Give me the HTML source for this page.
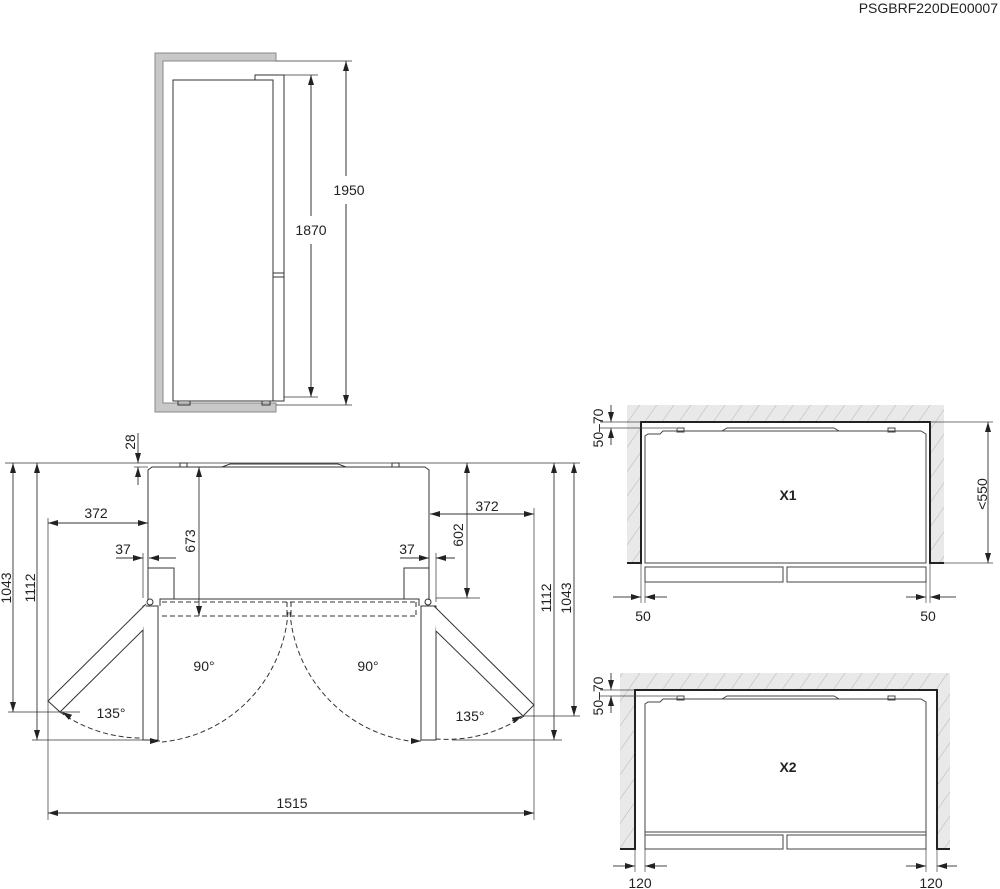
<!DOCTYPE html>
<html><head><meta charset="utf-8"><style>
html,body{margin:0;padding:0;background:#fff;}
svg{display:block;}
text{font-family:"Liberation Sans",sans-serif;font-size:14px;fill:#222;}
</style></head><body>
<svg width="1000" height="889" viewBox="0 0 1000 889" xmlns="http://www.w3.org/2000/svg">
<defs>
<marker id="a" viewBox="0 0 10 6" refX="10" refY="3" markerWidth="10" markerHeight="6" markerUnits="userSpaceOnUse" orient="auto-start-reverse"><path d="M0,0 L10,3 L0,6 z" fill="#222"/></marker>
<pattern id="h" patternUnits="userSpaceOnUse" width="14" height="14" patternTransform="rotate(35)">
<rect width="14" height="14" fill="#e9e9e9"/><line x1="0" y1="0" x2="0" y2="14" stroke="#b5b5b5" stroke-width="1"/></pattern>
</defs>
<text x="998" y="13" text-anchor="end">PSGBRF220DE00007</text>

<g fill="#c8c8c8" stroke="#888" stroke-width="1">
<path d="M155,53 H276 V61 H163 V403 H276 V412 H155 Z"/>
</g>
<g fill="none" stroke="#333" stroke-width="1">
<rect x="173" y="80" width="100" height="321"/>
<path d="M255,80 V75 H284 V401 H273"/>
<line x1="273" y1="273" x2="284" y2="273"/><line x1="273" y1="277" x2="284" y2="277"/>
<rect x="178" y="401" width="12" height="4"/><rect x="262" y="401" width="8" height="4"/>
<line x1="284" y1="75" x2="318" y2="75" stroke-width="0.7"/>
<line x1="284" y1="397" x2="318" y2="397" stroke-width="0.7"/>
<line x1="276" y1="61" x2="352" y2="61" stroke-width="0.7"/>
<line x1="276" y1="405" x2="352" y2="405" stroke-width="0.7"/>
<line x1="311" y1="75" x2="311" y2="216" marker-start="url(#a)"/>
<line x1="311" y1="244" x2="311" y2="397" marker-end="url(#a)"/>
<line x1="346" y1="61" x2="346" y2="176" marker-start="url(#a)"/>
<line x1="346" y1="204" x2="346" y2="405" marker-end="url(#a)"/>
</g>
<text x="311" y="235" text-anchor="middle">1870</text>
<text x="349" y="195" text-anchor="middle">1950</text>

<g fill="none" stroke="#333" stroke-width="1">
<line x1="5" y1="463" x2="580" y2="463" stroke-width="0.7"/>
<path d="M148,600 V470 L152,467 H425 L429,470 V600"/>
<rect x="180" y="463" width="7" height="4"/><rect x="392" y="463" width="7" height="4"/>
<path d="M222,467 L230,464 H338 L346,467"/>
<path d="M148,568 H174 V599"/><path d="M429,568 H404 V599"/>
<path d="M160,606 V599 H419 V606"/>
<g stroke-dasharray="5,3">
<line x1="162" y1="602" x2="416" y2="602"/><line x1="162" y1="616" x2="416" y2="616"/>
<line x1="287" y1="602" x2="287" y2="616"/><line x1="291" y1="602" x2="291" y2="616"/>
<line x1="416" y1="602" x2="416" y2="616"/>
<path d="M288,612 A140,140 0 0 1 162,742"/>
<path d="M60,712 A140,140 0 0 0 143,738"/>
<path d="M290,612 A140,140 0 0 0 418,742"/>
<path d="M524,716 A140,140 0 0 1 436,739"/>
</g>
<rect x="143" y="606" width="15" height="134" fill="#fff"/>
<rect x="421" y="606" width="15" height="134" fill="#fff"/>
<path d="M146,604 L48,701 L60,712 L143,630" fill="#fff"/>
<path d="M434,606 L534,705 L523,716 L436,631" fill="#fff"/>
<circle cx="150" cy="602" r="3"/><circle cx="428" cy="602" r="3"/>
</g>
<g fill="none" stroke="#333" stroke-width="0.9">
<line x1="150" y1="741" x2="160" y2="741" marker-end="url(#a)"/>
<line x1="70" y1="717" x2="62" y2="712" marker-end="url(#a)"/>
<line x1="412" y1="741" x2="421" y2="741" marker-end="url(#a)"/>
<line x1="512" y1="721" x2="522" y2="716" marker-end="url(#a)"/>
<line x1="138" y1="433" x2="138" y2="463" marker-end="url(#a)"/>
<line x1="138" y1="485" x2="138" y2="467" marker-end="url(#a)"/>
<line x1="134" y1="467" x2="148" y2="467" stroke-width="0.7"/>
<line x1="13" y1="463" x2="13" y2="712" marker-start="url(#a)" marker-end="url(#a)"/>
<line x1="37" y1="463" x2="37" y2="740" marker-start="url(#a)" marker-end="url(#a)"/>
<line x1="8" y1="712" x2="80" y2="712" stroke-width="0.7"/>
<line x1="32" y1="740" x2="143" y2="740" stroke-width="0.7"/>
<line x1="554" y1="463" x2="554" y2="740" marker-start="url(#a)" marker-end="url(#a)"/>
<line x1="574" y1="463" x2="574" y2="716" marker-start="url(#a)" marker-end="url(#a)"/>
<line x1="452" y1="740" x2="562" y2="740" stroke-width="0.7"/>
<line x1="524" y1="716" x2="580" y2="716" stroke-width="0.7"/>
<line x1="48" y1="523" x2="148" y2="523" marker-start="url(#a)" marker-end="url(#a)"/>
<line x1="48" y1="518" x2="48" y2="820" stroke-width="0.7"/>
<line x1="430" y1="514" x2="534" y2="514" marker-start="url(#a)" marker-end="url(#a)"/>
<line x1="534" y1="508" x2="534" y2="820" stroke-width="0.7"/>
<line x1="48" y1="813" x2="534" y2="813" marker-start="url(#a)" marker-end="url(#a)"/>
<line x1="116" y1="558" x2="143" y2="558" marker-end="url(#a)"/>
<line x1="176" y1="558" x2="149" y2="558" marker-end="url(#a)"/>
<line x1="143" y1="553" x2="143" y2="598" stroke-width="0.7"/>
<line x1="400" y1="558" x2="429" y2="558" marker-end="url(#a)"/>
<line x1="455" y1="558" x2="436" y2="558" marker-end="url(#a)"/>
<line x1="436" y1="553" x2="436" y2="602" stroke-width="0.7"/>
<line x1="199" y1="467" x2="199" y2="616" marker-start="url(#a)" marker-end="url(#a)"/>
<line x1="467" y1="463" x2="467" y2="598" marker-start="url(#a)" marker-end="url(#a)"/>
<line x1="436" y1="598" x2="480" y2="598" stroke-width="0.7"/>
</g>
<text x="131" y="442" text-anchor="middle" transform="rotate(-90 131 442)" dy="4">28</text>
<text x="7" y="588" text-anchor="middle" transform="rotate(-90 7 588)" dy="4">1043</text>
<text x="31" y="588" text-anchor="middle" transform="rotate(-90 31 588)" dy="4">1112</text>
<text x="547" y="598" text-anchor="middle" transform="rotate(-90 547 598)" dy="4">1112</text>
<text x="567" y="598" text-anchor="middle" transform="rotate(-90 567 598)" dy="4">1043</text>
<text x="191" y="541" text-anchor="middle" transform="rotate(-90 191 541)" dy="4">673</text>
<text x="459" y="535" text-anchor="middle" transform="rotate(-90 459 535)" dy="4">602</text>
<text x="96" y="518" text-anchor="middle">372</text>
<text x="487" y="511" text-anchor="middle">372</text>
<text x="123" y="554" text-anchor="middle">37</text>
<text x="407" y="554" text-anchor="middle">37</text>
<text x="204" y="671" text-anchor="middle">90°</text>
<text x="368" y="671" text-anchor="middle">90°</text>
<text x="111" y="718" text-anchor="middle">135°</text>
<text x="470" y="721" text-anchor="middle">135°</text>
<text x="292" y="808" text-anchor="middle">1515</text>

<path d="M627,405 H944 V563 H930 V422 H641 V563 H627 Z" fill="url(#h)"/>
<path d="M627,563 H641 V422 H930 V563 H944" fill="none" stroke="#222" stroke-width="2"/>
<g fill="none" stroke="#444" stroke-width="1">
<path d="M645,563 V436 L648,434 H660 L663,431 H921 L926,434 V563 Z"/>
<rect x="677" y="428" width="7" height="4"/><rect x="888" y="428" width="7" height="4"/>
<path d="M722,431 L727,428 H834 L839,431"/>
<rect x="645" y="567" width="138" height="15"/><rect x="787" y="567" width="139" height="15"/>
<line x1="600" y1="422" x2="641" y2="422" stroke-width="0.7"/>
<line x1="600" y1="428" x2="676" y2="428" stroke-width="0.7"/>
<line x1="611" y1="405" x2="611" y2="422" marker-end="url(#a)"/>
<line x1="611" y1="445" x2="611" y2="428" marker-end="url(#a)"/>
<line x1="930" y1="422" x2="993" y2="422" stroke-width="0.7"/>
<line x1="944" y1="563" x2="993" y2="563" stroke-width="0.7"/>
<line x1="988" y1="422" x2="988" y2="563" marker-start="url(#a)" marker-end="url(#a)"/>
<line x1="641" y1="563" x2="641" y2="603" stroke-width="0.7"/><line x1="645" y1="582" x2="645" y2="603" stroke-width="0.7"/>
<line x1="926" y1="582" x2="926" y2="603" stroke-width="0.7"/><line x1="930" y1="563" x2="930" y2="603" stroke-width="0.7"/>
<line x1="613" y1="597" x2="641" y2="597" marker-end="url(#a)"/>
<line x1="667" y1="597" x2="645" y2="597" marker-end="url(#a)"/>
<line x1="906" y1="597" x2="926" y2="597" marker-end="url(#a)"/>
<line x1="956" y1="597" x2="930" y2="597" marker-end="url(#a)"/>
</g>
<text x="599" y="428" text-anchor="middle" transform="rotate(-90 599 428)" dy="4">50–70</text>
<text x="983" y="494" text-anchor="middle" transform="rotate(-90 983 494)" dy="4">&lt;550</text>
<text x="643" y="621" text-anchor="middle">50</text>
<text x="928" y="621" text-anchor="middle">50</text>
<text x="788" y="500" text-anchor="middle" style="font-weight:bold;font-size:14px">X1</text>

<path d="M620,673 H950 V849 H937 V690 H635 V849 H620 Z" fill="url(#h)"/>
<path d="M620,849 H635 V690 H937 V849 H950" fill="none" stroke="#222" stroke-width="2"/>
<g fill="none" stroke="#444" stroke-width="1">
<path d="M645,849 V704 L648,702 H660 L663,699 H921 L926,702 V849"/>
<line x1="645" y1="832" x2="926" y2="832"/>
<rect x="677" y="696" width="7" height="4"/><rect x="888" y="696" width="7" height="4"/>
<path d="M722,699 L727,696 H834 L839,699"/>
<rect x="645" y="835" width="138" height="14"/><rect x="787" y="835" width="139" height="14"/>
<line x1="600" y1="690" x2="635" y2="690" stroke-width="0.7"/>
<line x1="600" y1="696" x2="676" y2="696" stroke-width="0.7"/>
<line x1="611" y1="673" x2="611" y2="690" marker-end="url(#a)"/>
<line x1="611" y1="713" x2="611" y2="696" marker-end="url(#a)"/>
<line x1="635" y1="849" x2="635" y2="872" stroke-width="0.7"/><line x1="645" y1="849" x2="645" y2="872" stroke-width="0.7"/>
<line x1="926" y1="849" x2="926" y2="872" stroke-width="0.7"/><line x1="937" y1="849" x2="937" y2="872" stroke-width="0.7"/>
<line x1="613" y1="866" x2="635" y2="866" marker-end="url(#a)"/>
<line x1="667" y1="866" x2="645" y2="866" marker-end="url(#a)"/>
<line x1="906" y1="866" x2="926" y2="866" marker-end="url(#a)"/>
<line x1="957" y1="866" x2="937" y2="866" marker-end="url(#a)"/>
</g>
<text x="599" y="696" text-anchor="middle" transform="rotate(-90 599 696)" dy="4">50–70</text>
<text x="640" y="888" text-anchor="middle">120</text>
<text x="931" y="888" text-anchor="middle">120</text>
<text x="788" y="772" text-anchor="middle" style="font-weight:bold;font-size:14px">X2</text>
</svg>
</body></html>
